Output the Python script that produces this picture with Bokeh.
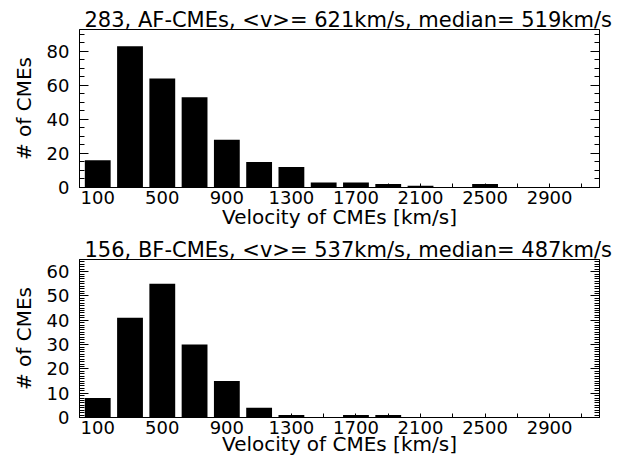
from bokeh.plotting import figure
from bokeh.layouts import column
from bokeh.models import (Range1d, FixedTicker, SingleIntervalTicker, LinearAxis,
                          CustomJSTickFormatter)
from bokeh.embed import file_html
from bokeh.resources import INLINE

# ---- data ----
velocity_bins = [100, 300, 500, 700, 900, 1100, 1300, 1500,
                 1700, 1900, 2100, 2300, 2500, 2700, 2900, 3100]
af_counts = [16, 83, 64, 53, 28, 15, 12, 3, 3, 2, 1, 0, 2, 0, 0, 0]
bf_counts = [8, 41, 55, 30, 15, 4, 1, 0, 1, 1, 0, 0, 0, 0, 0, 0]
x_tick_labels = ["100", "500", "900", "1300", "1700", "2100", "2500", "2900"]
af_title = "283, AF-CMEs, <v>= 621km/s, median= 519km/s"
bf_title = "156, BF-CMEs, <v>= 537km/s, median= 487km/s"
x_label = "Velocity of CMEs [km/s]"
y_label = "# of CMEs"

FONT = "DejaVu Sans"
label_ticks = [int(s) for s in x_tick_labels]
minor_x = [v for v in velocity_bins if v not in label_ticks]


def make_panel(counts, title, ymax, y_step, n_minor, height, top_border,
               bottom_border, xlabel_standoff):
    p = figure(width=620, height=height, output_backend="svg", toolbar_location=None,
               x_range=Range1d(-13, 3209), y_range=Range1d(0, ymax),
               min_border_left=79, min_border_right=21,
               min_border_top=top_border, min_border_bottom=bottom_border,
               background_fill_color="white", border_fill_color="white")
    p.vbar(x=velocity_bins, top=counts, width=160, fill_color="black", line_color=None)

    p.title.text = title
    p.title.align = "left"
    p.title.offset = 5
    p.title.standoff = -4
    p.title.text_font = FONT
    p.title.text_font_size = "21px"
    p.title.text_font_style = "normal"
    p.title.text_color = "black"

    p.xgrid.visible = False
    p.ygrid.visible = False
    p.outline_line_color = "black"
    p.outline_line_width = 1
    p.outline_line_alpha = 1

    xa = p.xaxis[0]
    xa.ticker = FixedTicker(ticks=label_ticks, minor_ticks=minor_x)
    xa.major_label_overrides = {v: s for v, s in zip(label_ticks, x_tick_labels)}
    xa.axis_label = x_label
    xa.major_tick_in = 4
    xa.major_tick_out = 0
    xa.minor_tick_in = 4
    xa.minor_tick_out = 0
    xa.major_label_standoff = 3
    xa.axis_label_standoff = xlabel_standoff

    ya = p.yaxis[0]
    ya.ticker = SingleIntervalTicker(interval=y_step, num_minor_ticks=n_minor)
    ya.axis_label = y_label
    ya.major_label_standoff = 10
    ya.axis_label_standoff = 8

    ra = LinearAxis(ticker=SingleIntervalTicker(interval=y_step, num_minor_ticks=n_minor),
                    formatter=CustomJSTickFormatter(code="return ''"))
    p.add_layout(ra, "right")

    for ax in [ya, ra]:
        ax.major_tick_in = 9
        ax.major_tick_out = 0
        ax.minor_tick_in = 5
        ax.minor_tick_out = 0

    for ax in [xa, ya, ra]:
        ax.axis_line_color = "black"
        ax.major_tick_line_color = "black"
        ax.minor_tick_line_color = "black"
        ax.major_label_text_font = FONT
        ax.major_label_text_font_size = "18px"
        ax.major_label_text_color = "black"
        ax.axis_label_text_font = FONT
        ax.axis_label_text_font_size = "20px"
        ax.axis_label_text_font_style = "normal"
        ax.axis_label_text_color = "black"
    return p


p1 = make_panel(af_counts, af_title, 92.8, 20, 4, 233, 29, 46, -2)
p2 = make_panel(bf_counts, bf_title, 65, 10, 10, 226, 26, 42, -5)

layout = column(p1, p2, spacing=0)
open("out.html", "w").write(file_html(layout, INLINE))
